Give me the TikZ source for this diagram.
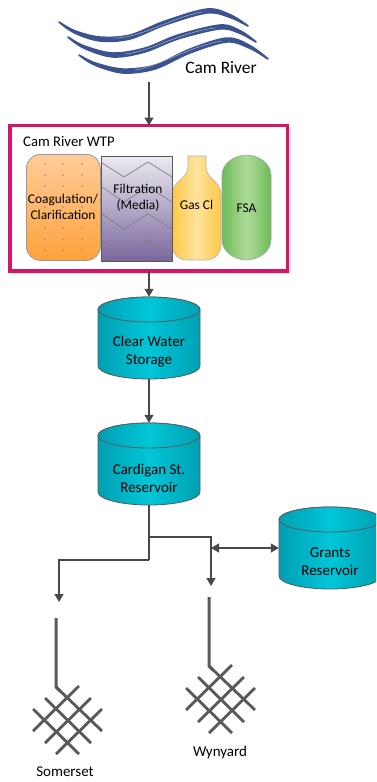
\documentclass[tikz,border=0pt]{standalone}
\usepackage{fontspec}
\setmainfont{Carlito}
\usetikzlibrary{arrows.meta}
\definecolor{wave}{HTML}{3B5490}
\definecolor{pipe}{HTML}{484848}
\definecolor{wtpc}{HTML}{D6146A}
\definecolor{tankedge}{HTML}{00A0B2}
\definecolor{tankmid}{HTML}{00C6D8}
\definecolor{coagtop}{HTML}{FFCC99}
\definecolor{coagbot}{HTML}{FFA23C}
\definecolor{filttop}{HTML}{ECEAF0}
\definecolor{filtbot}{HTML}{7A669E}
\definecolor{gasedge}{HTML}{FFC845}
\definecolor{gasmid}{HTML}{FFE3A0}
\definecolor{fsaedge}{HTML}{6CBB58}
\definecolor{fsamid}{HTML}{AEDB98}
\tikzset{
  lbl/.style={font=\fontsize{15}{18}\selectfont,align=center,text=black,inner sep=0pt},
  inlbl/.style={font=\fontsize{13.4}{16}\selectfont,align=center,text=black,inner sep=0pt},
  pipeline/.style={draw=pipe,line width=1.2pt},
  flow/.style={pipeline,-{Triangle[length=8pt,width=9pt]}},
  bothflow/.style={pipeline,{Triangle[length=8pt,width=9pt]}-{Triangle[length=8pt,width=9pt]}},
  wavy/.style={draw=wave,fill=wave,line width=1.5pt,line join=round},
  glint/.style={draw=white,line width=.35pt,opacity=.7},
  tankbox/.style={minimum width=102pt,minimum height=82pt,inner sep=0pt},
  tankline/.style={draw=pipe!90,line width=.8pt},
  zig/.style={draw=black!50,line width=.7pt},
  stem/.style={draw=black!65,line width=3pt},
  grid/.style={draw=black!65,line width=2.8pt},
  dotc/.style={fill=black!45}
}
% name, centre x, top y, label
\newcommand{\tank}[4]{%
  \node[tankbox] (#1) at (#2,#3+41) {};
  \path[tankline,left color=tankedge,right color=tankedge,middle color=tankmid]
    (#2-51,#3+12.5) -- (#2-51,#3+69) arc[start angle=180,end angle=360,x radius=51pt,y radius=13pt]
    -- (#2+51,#3+12.5) arc[start angle=0,end angle=180,x radius=51pt,y radius=12.5pt] -- cycle;
  \path[tankline,left color=tankedge,right color=tankedge,middle color=tankmid]
    (#2,#3+12.5) ellipse[x radius=51pt,y radius=12.5pt];
  \node[lbl] at (#2,#3+55) {#4};
}
% stem and mesh, dx dy
\newcommand{\tap}[3]{%
  \begin{scope}[shift={(#2,#3)}]
    \coordinate (#1) at (56,618);
    \draw[stem,line join=miter] (#1) -- (56,687) -- (60,691);
    \draw[grid] (56,687) -- (102,731) (45,698) -- (91,743) (33,709) -- (79,754)
                (79,686) -- (33,731) (91,698) -- (45,743) (102,709) -- (56,754);
  \end{scope}
}
\begin{document}
\begin{tikzpicture}[x=1pt,y=-1pt]
\clip (0,0) rectangle (376,782);
\fill[white] (0,0) rectangle (376,782);
% river
\draw[wavy] plot[smooth cycle,tension=.55] coordinates {(59,22)(75,30.8)(100,37)(130,35)(165,21)(207,9)(230,14.6)(248,26)(230,17.4)(207,13)(165,25)(130,39)(100,41)(75,33.2)};
\draw[wavy] plot[smooth cycle,tension=.55] coordinates {(68,37)(84,45.8)(113,53)(145,48)(178,35)(220,25)(240,30.6)(256,42)(240,33.4)(220,29)(178,39)(145,52)(113,57)(84,48.2)};
\draw[wavy] plot[smooth cycle,tension=.55] coordinates {(79,55)(95,62.8)(123,69)(155,65)(190,49)(227,38)(250,45.6)(268,59)(250,48.4)(227,42)(190,53)(155,69)(123,73)(95,65.2)};
\draw[glint] (112,38) .. controls (140,39) and (170,18) .. (202,12);
\draw[glint] (125,54) .. controls (150,52) and (180,32) .. (215,28);
\draw[glint] (135,70) .. controls (160,66) and (190,46) .. (222,41);
\node[lbl,font=\fontsize{17.4}{20}\selectfont] (river) at (221,68) {Cam River};
\coordinate (riverout) at (149,82);
% WTP box
\fill[black!12] (11,127) rectangle (291,274);
\node[draw=wtpc,fill=white,line width=3.2pt,outer sep=0pt,minimum width=277.5pt,minimum height=145.5pt,inner sep=0pt,anchor=north west] (wtp) at (10,125.5) {};
\node[lbl,anchor=west,font=\fontsize{14.7}{17}\selectfont] (wtplabel) at (23,141) {Cam River WTP};
% coagulation
\node[draw=black!40,line width=.8pt,rounded corners=14pt,top color=coagtop,bottom color=coagbot,minimum width=74pt,minimum height=106pt,inner sep=0pt,anchor=north west] (coag) at (26,154) {};
\foreach \y in {164,175,186,197,207,218,228,239,250}
  \foreach \x in {45,63,82}
    \fill[dotc] (\x,\y) circle (.8pt);
\node[inlbl] at (63,207) {Coagulation/\\Clarification};
% gas bottle
\path[draw=black!30,line width=.6pt,left color=gasedge,right color=gasedge,middle color=gasmid]
  (188,156) -- (206,156) -- (206,166) .. controls (206,180) and (221,180) .. (221,195)
  -- (221,245) .. controls (221,255) and (213,260) .. (206,260) -- (187,260)
  .. controls (180,260) and (172,255) .. (172,245) -- (172,195)
  .. controls (172,180) and (188,180) .. (188,166) -- cycle;
\node[inlbl] (gas) at (196.5,205) {Gas Cl};
% filtration
\node[draw=black!65,line width=1pt,top color=filttop,bottom color=filtbot,minimum width=71pt,minimum height=105pt,inner sep=0pt,anchor=north west] (filt) at (101,155.5) {};
\draw[zig] (102,163) -- (124,177) -- (148,162) -- (172,177);
\draw[zig] (102,187) -- (124,202) -- (148,187) -- (172,202);
\draw[zig] (102,214) -- (124,229) -- (148,214) -- (172,229);
\draw[zig] (102,240) -- (124,255) -- (148,240) -- (172,255);
\node[inlbl] at (138,197.5) {Filtration\\(Media)};
% FSA
\path[draw=black!35,line width=.6pt,left color=fsaedge,right color=fsaedge,middle color=fsamid]
  (222,175) .. controls (222,163) and (235,155) .. (246.5,155) .. controls (258,155) and (271,163) .. (271,175)
  -- (271,240) .. controls (271,252) and (258,260) .. (246.5,260) .. controls (235,260) and (222,252) .. (222,240) -- cycle;
\node[inlbl] (fsa) at (246.5,208) {FSA};
% tanks
\tank{clear}{149}{297}{Clear Water\\Storage}
\tank{card}{149}{423}{Cardigan St.\\Reservoir}
\tank{grants}{330}{507}{Grants\\Reservoir}
% junctions
\coordinate (j1) at (149,537);
\coordinate (j2) at (149,560);
\coordinate (w1) at (211,537);
\coordinate (w2) at (211,548);
\coordinate (wend) at (211,586);
\coordinate (s1) at (59,560);
\coordinate (send) at (59,602);
% connectors
\draw[flow] (riverout) -- (wtp.north -| riverout);
\draw[flow] (wtp.south -| clear.north) -- (clear.north);
\draw[flow] (clear.south) -- (card.north);
\draw[pipeline] (card.south) -- (j2);
\draw[flow] (j2) -- (s1) -- (send);
\draw[flow] (j1) -- (w1) -- (wend);
\draw[bothflow] (w2) -- (w2 -| grants.west);
% taps
\tap{som}{0}{0}
\tap{wyn}{153}{-21}
\node[lbl] (somerset) at (65,772) {Somerset};
\node[lbl] (wynyard) at (220,752) {Wynyard};
\end{tikzpicture}
\end{document}
